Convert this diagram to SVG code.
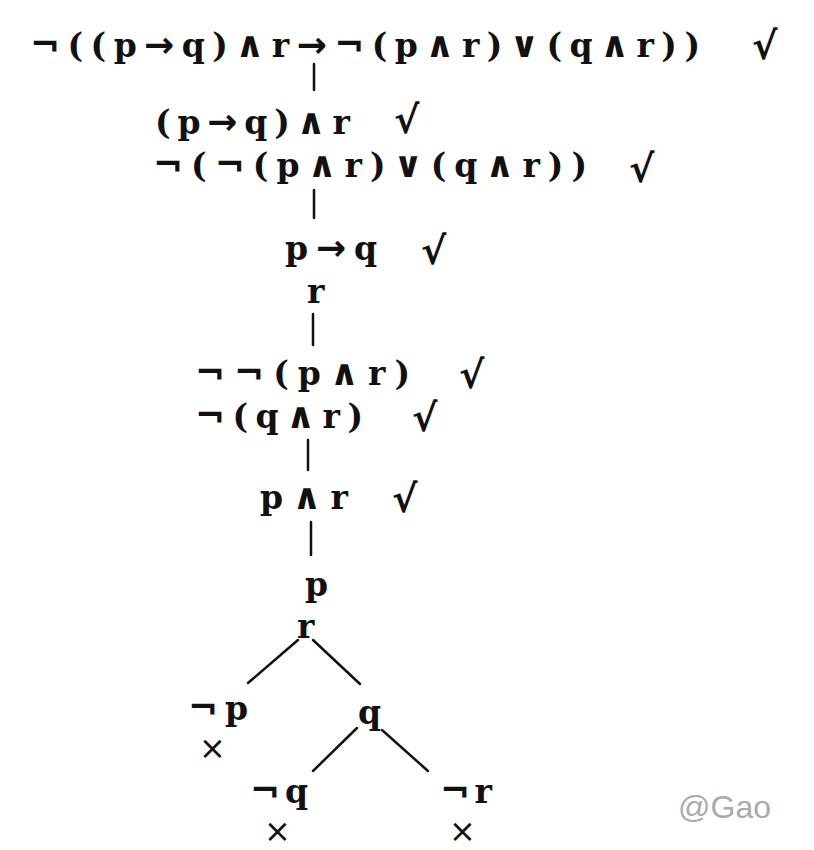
<svg xmlns="http://www.w3.org/2000/svg" width="814" height="850" viewBox="0 0 814 850">
<style>
.f{font-family:"DejaVu Serif","Liberation Serif",serif;font-weight:bold;font-size:33px;fill:#111}
.op{font-family:"DejaVu Sans","Liberation Sans",sans-serif;font-weight:bold;font-size:36px}
.ng{font-family:"DejaVu Sans","Liberation Sans",sans-serif;font-weight:bold;font-size:36px}
.ck{font-family:"DejaVu Sans","Liberation Sans",sans-serif;font-weight:bold;font-size:38px;fill:#111}
.x{font-family:"DejaVu Sans","Liberation Sans",sans-serif;font-size:32px;fill:#111}
.c line{stroke:#111;stroke-width:2.5;stroke-linecap:round}
.wm{font-family:"Liberation Sans",Arial,sans-serif;font-size:32px;fill:#aaaaaa}
</style>
<rect width="814" height="850" fill="#ffffff"/>
<g id="n1"><text class="f" x="30" y="57" textLength="670" lengthAdjust="spacing"><tspan class="ng">¬</tspan>((p<tspan class="ng">→</tspan>q)<tspan class="op">∧</tspan>r<tspan class="ng">→¬</tspan>(p<tspan class="op">∧</tspan>r)<tspan class="op">∨</tspan>(q<tspan class="op">∧</tspan>r))</text><text class="ck" x="752" y="59">√</text></g>
<g id="n2"><text class="f" x="155" y="134" textLength="195" lengthAdjust="spacing">(p<tspan class="ng">→</tspan>q)<tspan class="op">∧</tspan>r</text><text class="ck" x="394" y="133">√</text></g>
<g id="n3"><text class="f" x="153" y="177" textLength="434" lengthAdjust="spacing"><tspan class="ng">¬</tspan>(<tspan class="ng">¬</tspan>(p<tspan class="op">∧</tspan>r)<tspan class="op">∨</tspan>(q<tspan class="op">∧</tspan>r))</text><text class="ck" x="629" y="182">√</text></g>
<g id="n4"><text class="f" x="285" y="260" textLength="92" lengthAdjust="spacing">p<tspan class="ng">→</tspan>q</text><text class="ck" x="421" y="264">√</text></g>
<g id="n5"><text class="f" x="307" y="303">r</text></g>
<g id="n6"><text class="f" x="195" y="385" textLength="215" lengthAdjust="spacing"><tspan class="ng">¬¬</tspan>(p<tspan class="op">∧</tspan>r)</text><text class="ck" x="459" y="388">√</text></g>
<g id="n7"><text class="f" x="195" y="428" textLength="168" lengthAdjust="spacing"><tspan class="ng">¬</tspan>(q<tspan class="op">∧</tspan>r)</text><text class="ck" x="412" y="431">√</text></g>
<g id="n8"><text class="f" x="260" y="509" textLength="88" lengthAdjust="spacing">p<tspan class="op">∧</tspan>r</text><text class="ck" x="392" y="512">√</text></g>
<g id="n9"><text class="f" x="305" y="596">p</text></g>
<g id="n10"><text class="f" x="297" y="638">r</text></g>
<g id="n11"><text class="f" x="188" y="720" textLength="60" lengthAdjust="spacing"><tspan class="ng">¬</tspan>p</text><text class="x" x="199" y="759">×</text></g>
<g id="n12"><text class="f" x="358" y="724">q</text></g>
<g id="n13"><text class="f" x="250" y="803" textLength="58" lengthAdjust="spacing"><tspan class="ng">¬</tspan>q</text><text class="x" x="264" y="842">×</text></g>
<g id="n14"><text class="f" x="440" y="803" textLength="52" lengthAdjust="spacing"><tspan class="ng">¬</tspan>r</text><text class="x" x="449" y="842">×</text></g>
<g class="c" id="connectors">
<line x1="314" y1="64" x2="314" y2="90"/>
<line x1="314" y1="190" x2="314" y2="218"/>
<line x1="313" y1="314" x2="313" y2="345"/>
<line x1="308" y1="440" x2="308" y2="470"/>
<line x1="311" y1="522" x2="311" y2="555"/>
<line x1="298" y1="640" x2="248" y2="683"/>
<line x1="313" y1="640" x2="360" y2="684"/>
<line x1="357" y1="728" x2="313" y2="771"/>
<line x1="382" y1="730" x2="428" y2="771"/>
</g>
<text class="wm" x="678" y="818">@Gao</text>
</svg>
